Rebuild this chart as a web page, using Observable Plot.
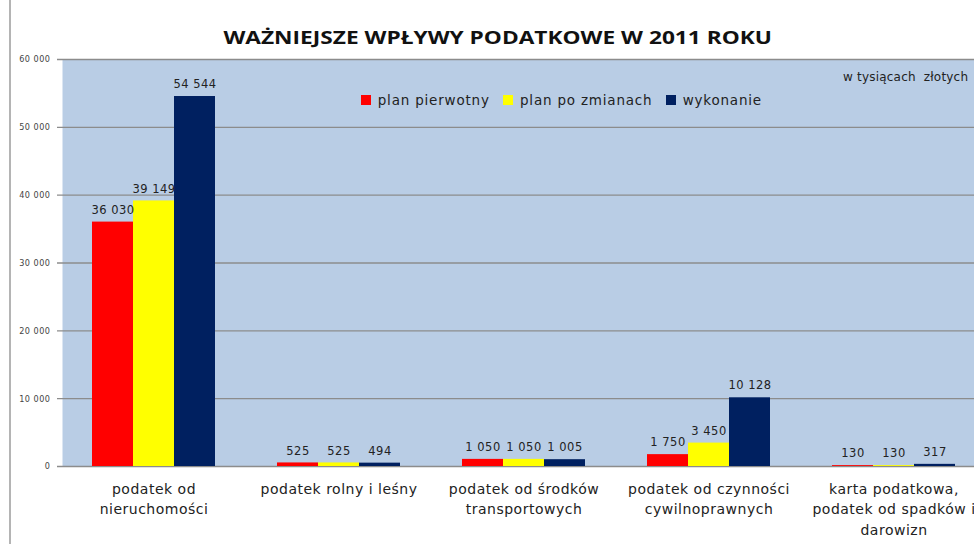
<!DOCTYPE html>
<html><head><meta charset="utf-8">
<script src="https://cdn.jsdelivr.net/npm/d3@7"></script>
<script src="https://cdn.jsdelivr.net/npm/@observablehq/plot@0.6"></script>
<style>
html,body{margin:0;padding:0;background:#fff}
body{width:974px;height:544px;overflow:hidden;position:relative;font-family:"DejaVu Sans",sans-serif}
#title{position:absolute;left:0;top:24px;width:996px;text-align:center;line-height:26px}
#title span{display:inline-block;transform:scaleX(1.26);transform-origin:center;font-weight:bold;font-size:18px;color:#111;font-family:"Open Sans",sans-serif}
#chart{position:absolute;left:0;top:50px}
#vline{position:absolute;left:9px;top:0;width:2px;height:544px;background:#b4b4b4}
#unit{position:absolute;left:843px;top:70px;font-size:12px;color:#222;white-space:nowrap;font-family:"DejaVu Sans",sans-serif;letter-spacing:0.2px}
#legend{position:absolute;left:361px;top:83px}
</style>
</head><body>
<div id="vline"></div>
<div id="title"><span>WAŻNIEJSZE WPŁYWY PODATKOWE W 2011 ROKU</span></div>
<div id="chart"></div>
<div id="unit">w tysiącach&nbsp; złotych</div>
<div id="legend"></div>
<script>
const categories = [
  "podatek od\nnieruchomości",
  "podatek rolny i leśny",
  "podatek od środków\ntransportowych",
  "podatek od czynności\ncywilnoprawnych",
  "karta podatkowa,\npodatek od spadków i\ndarowizn"
];
const series = ["plan pierwotny", "plan po zmianach", "wykonanie"];
const planPierwotny = [36030, 525, 1050, 1750, 130];
const planPoZmianach = [39149, 525, 1050, 3450, 130];
const wykonanie = [54544, 494, 1005, 10128, 317];
const colors = ["#ff0000", "#ffff00", "#002060"];
const yTicks = [0, 10000, 20000, 30000, 40000, 50000, 60000];

const seriesValues = [planPierwotny, planPoZmianach, wykonanie];
const rows = categories.flatMap((c, i) => series.map((s, j) => ({category: c, series: s, value: seriesValues[j][i]})));
const fmt = v => d3.format(",")(v).replace(/,/g, " ");

const W = 974, H = 494;
const bw = 41; // width of one bar inside a category group

const marks = [
  Plot.frame({fill: "#b9cde5"}),
  Plot.ruleY(yTicks, {stroke: "#8c8c8c", strokeWidth: 1.3, insetLeft: -5})
];
series.forEach((s, j) => {
  const data = rows.filter(d => d.series === s);
  marks.push(Plot.barY(data, {x: "category", y: "value", fill: "series", insetLeft: j * bw, insetRight: (2 - j) * bw}));
});
series.forEach((s, j) => {
  const data = rows.filter(d => d.series === s);
  marks.push(Plot.text(data, {x: "category", y: "value", text: d => fmt(d.value), dx: (j - 1) * bw, dy: -12, fontSize: 11.5, fill: "#222", fontFamily: "DejaVu Sans"}));
});
marks.push(Plot.text(categories, {x: d => d, text: d => d, frameAnchor: "bottom", lineAnchor: "top", dy: 13, lineHeight: 1.45, fontSize: 14, fill: "#222", fontFamily: "DejaVu Sans"}));

const chart = Plot.plot({
  width: W,
  height: H,
  marginLeft: 62,
  marginRight: 0,
  marginTop: 9,
  marginBottom: 78,
  style: {background: "transparent", color: "#444", fontSize: "9px", fontFamily: "DejaVu Sans Condensed, DejaVu Sans, sans-serif", letterSpacing: "0.5px"},
  x: {domain: categories, range: [61, 986], paddingInner: 0.335, paddingOuter: 0.1675, axis: null},
  y: {domain: [0, 60000], ticks: yTicks, tickFormat: fmt, tickSize: 0, tickPadding: 12, label: null, grid: false},
  color: {domain: series, range: colors},
  marks
});
document.getElementById("chart").appendChild(chart);

const legend = Plot.legend({
  color: {domain: series, range: colors},
  swatchSize: 10,
  style: {fontSize: "13.5px", fontFamily: "DejaVu Sans", color: "#222", background: "transparent", letterSpacing: "0.8px"}
});
document.getElementById("legend").appendChild(legend);
</script>
</body></html>
